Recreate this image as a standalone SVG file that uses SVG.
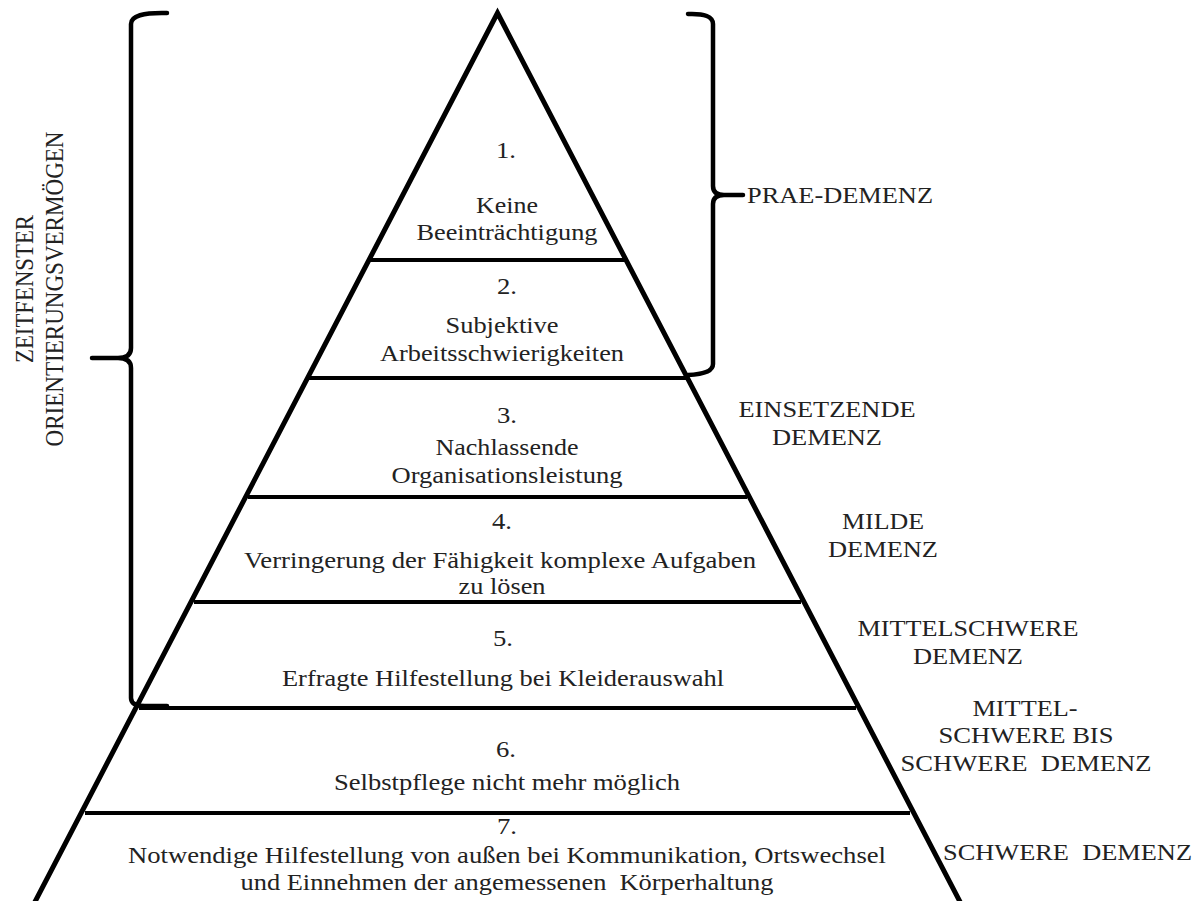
<svg xmlns="http://www.w3.org/2000/svg" width="1203" height="901" viewBox="0 0 1203 901">
<style>
.edge{fill:none;stroke:#000;stroke-width:5;stroke-linejoin:miter}
.sep{stroke:#000;stroke-width:4}
.brace{fill:none;stroke:#000;stroke-width:4.5;stroke-linecap:round;stroke-linejoin:round}
text{font-family:"Liberation Serif","Tinos","Times New Roman",serif;font-size:23px;fill:#222}
.c{text-anchor:middle}
</style>
<rect width="1203" height="901" fill="#fff"/>
<g id="pyramid">
<polyline class="edge" points="33.3,905 497.5,13 961.7,905"/>
<line class="sep" x1="370" y1="260" x2="625" y2="260"/>
<line class="sep" x1="309" y1="378" x2="686" y2="378"/>
<line class="sep" x1="248" y1="497" x2="747" y2="497"/>
<line class="sep" x1="194" y1="602" x2="801" y2="602"/>
<line class="sep" x1="139" y1="708" x2="856" y2="708"/>
<line class="sep" x1="85" y1="813" x2="910" y2="813"/>
</g>
<g id="connectors">
<path id="brace-left" class="brace" d="M167,13 Q131,12 131,24 L131,348 Q131,358 118,358 L92,358 M118,358 Q131,358 131,368 L131,698 Q131,706 145,706 L167,706"/>
<path id="brace-right" class="brace" d="M688,14 Q713,13 713,24 L713,186 Q713,195 724,195 L743,195 M724,195 Q713,195 713,204 L713,364 Q713,374 688,375"/>
</g>
<g id="stage1"><text class="c" x="506" y="158" textLength="20" lengthAdjust="spacingAndGlyphs">1.</text><text class="c" x="507" y="213" textLength="62" lengthAdjust="spacingAndGlyphs">Keine</text><text class="c" x="507" y="240" textLength="181" lengthAdjust="spacingAndGlyphs">Beeinträchtigung</text></g>
<g id="stage2"><text class="c" x="507" y="294" textLength="20" lengthAdjust="spacingAndGlyphs">2.</text><text class="c" x="502" y="333" textLength="113" lengthAdjust="spacingAndGlyphs">Subjektive</text><text class="c" x="502" y="361" textLength="244" lengthAdjust="spacingAndGlyphs">Arbeitsschwierigkeiten</text></g>
<g id="stage3"><text class="c" x="507" y="423" textLength="20" lengthAdjust="spacingAndGlyphs">3.</text><text class="c" x="507" y="455" textLength="143" lengthAdjust="spacingAndGlyphs">Nachlassende</text><text class="c" x="507" y="483" textLength="231" lengthAdjust="spacingAndGlyphs">Organisationsleistung</text></g>
<g id="stage4"><text class="c" x="502" y="529" textLength="20" lengthAdjust="spacingAndGlyphs">4.</text><text class="c" x="500" y="568" textLength="512" lengthAdjust="spacingAndGlyphs">Verringerung der Fähigkeit komplexe Aufgaben</text><text class="c" x="502" y="594" textLength="87" lengthAdjust="spacingAndGlyphs">zu lösen</text></g>
<g id="stage5"><text class="c" x="503" y="646" textLength="20" lengthAdjust="spacingAndGlyphs">5.</text><text class="c" x="503" y="686" textLength="442" lengthAdjust="spacingAndGlyphs">Erfragte Hilfestellung bei Kleiderauswahl</text></g>
<g id="stage6"><text class="c" x="506" y="757" textLength="20" lengthAdjust="spacingAndGlyphs">6.</text><text class="c" x="507" y="790" textLength="346" lengthAdjust="spacingAndGlyphs">Selbstpflege nicht mehr möglich</text></g>
<g id="stage7"><text class="c" x="507" y="834" textLength="20" lengthAdjust="spacingAndGlyphs">7.</text><text class="c" x="507" y="863" textLength="758" lengthAdjust="spacingAndGlyphs">Notwendige Hilfestellung von außen bei Kommunikation, Ortswechsel</text><text class="c" x="507" y="890" textLength="533" lengthAdjust="spacingAndGlyphs" xml:space="preserve">und Einnehmen der angemessenen  Körperhaltung</text></g>
<g id="label-prae"><text x="747" y="203" textLength="186" lengthAdjust="spacingAndGlyphs">PRAE-DEMENZ</text></g>
<g id="label-einsetzend"><text class="c" x="827" y="417" textLength="177" lengthAdjust="spacingAndGlyphs">EINSETZENDE</text><text class="c" x="827" y="445" textLength="110" lengthAdjust="spacingAndGlyphs">DEMENZ</text></g>
<g id="label-milde"><text class="c" x="883" y="529" textLength="82" lengthAdjust="spacingAndGlyphs">MILDE</text><text class="c" x="883" y="557" textLength="110" lengthAdjust="spacingAndGlyphs">DEMENZ</text></g>
<g id="label-mittelschwer"><text class="c" x="968" y="636" textLength="221" lengthAdjust="spacingAndGlyphs">MITTELSCHWERE</text><text class="c" x="968" y="664" textLength="110" lengthAdjust="spacingAndGlyphs">DEMENZ</text></g>
<g id="label-mittel-bis-schwer"><text class="c" x="1025" y="716" textLength="105" lengthAdjust="spacingAndGlyphs">MITTEL-</text><text class="c" x="1026" y="743" textLength="175" lengthAdjust="spacingAndGlyphs">SCHWERE BIS</text><text class="c" x="1026" y="771" textLength="251" lengthAdjust="spacingAndGlyphs" xml:space="preserve">SCHWERE  DEMENZ</text></g>
<g id="label-schwer"><text x="943" y="860" textLength="249" lengthAdjust="spacingAndGlyphs" xml:space="preserve">SCHWERE  DEMENZ</text></g>
<g id="label-zeitfenster"><text class="c" transform="translate(33,289) rotate(-90) scale(1,1.1)" textLength="148" lengthAdjust="spacingAndGlyphs">ZEITFENSTER</text><text class="c" transform="translate(63,289) rotate(-90) scale(1,1.1)" textLength="315" lengthAdjust="spacingAndGlyphs">ORIENTIERUNGSVERMÖGEN</text></g>
</svg>
